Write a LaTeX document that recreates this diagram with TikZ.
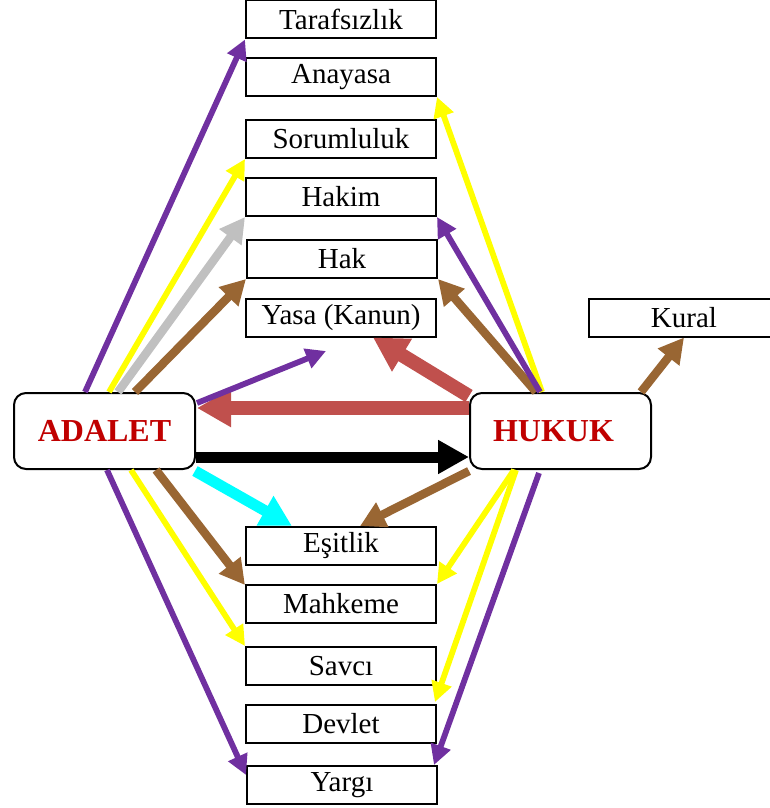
\documentclass[tikz,border=0pt]{standalone}
\usepackage{fontspec}
\setmainfont{Liberation Serif}
\usetikzlibrary{arrows.meta,calc}
\definecolor{cpurple}{HTML}{7030A0}
\definecolor{cyellow}{HTML}{FFFF00}
\definecolor{cgray}{HTML}{C0C0C0}
\definecolor{cbrown}{HTML}{996633}
\definecolor{cred}{HTML}{C0504D}
\definecolor{ccyan}{HTML}{00FFFF}
\definecolor{darkred}{HTML}{C00000}
\tikzset{
  box/.style={draw, line width=2pt, minimum width=190pt, minimum height=38pt, inner sep=0pt, fill=white, font=\fontsize{29}{31}\selectfont},
  mainbox/.style={draw, line width=2pt, rounded corners=12pt, minimum width=181pt, minimum height=76pt, inner sep=0pt, fill=white, text=darkred, font=\fontsize{32}{34}\selectfont\bfseries},
  thinarr/.style={line width=5.8pt, -{Triangle[length=20pt,width=20pt]}},
  midarr/.style={line width=8.5pt, -{Triangle[length=25pt,width=26pt]}},
  fatarr/.style={line width=11pt, -{Triangle[length=31pt,width=32pt]}},
  hugearr/.style={line width=14pt, -{Triangle[length=34pt,width=36pt]}}
}
\begin{document}
\begin{tikzpicture}[x=1pt,y=-1pt]
\useasboundingbox (0,0) rectangle (769,808);
% boxes
\node[box] (taraf) at (341,19.5) {Tarafsızlık};
\node[box] (anayasa) at (341,77) {Anayasa};
\node[box] (sorum) at (341,139) {Sorumluluk};
\node[box] (hakim) at (341,197) {Hakim};
\node[box] (hak) at (342,259) {Hak};
\node[box] (yasa) at (341,317.5) {Yasa (Kanun)};
\node[box] (kural) at (684,317.5) {Kural};
\node[box] (esit) at (341,546) {Eşitlik};
\node[box] (mahk) at (341,604) {Mahkeme};
\node[box] (savci) at (341,666) {Savcı};
\node[box] (devlet) at (341,724) {Devlet};
\node[box] (yargi) at (342,785) {Yargı};
\node[mainbox] (adalet) at (104.5,431) {ADALET};
\node[mainbox] (hukuk) at (560.5,431) {\hspace{-14pt}HUKUK};
\coordinate (free) at (326,351);
% ADALET upward
\draw[thinarr, cpurple] ($(adalet.north west)+(72,0)$) -- (taraf.south west);
\draw[thinarr, cyellow] ($(adalet.north west)+(96,0)$) -- (sorum.south west);
\draw[midarr, cgray] ($(adalet.north west)+(105,0)$) -- (hakim.south west);
\draw[midarr, cbrown] ($(adalet.north west)+(122,0)$) -- (hak.south west);
% red arrows from HUKUK
\draw[hugearr, cred] ($(hukuk.west)+(0,-23)$) -- ($(adalet.east)+(1,-23)$);
\draw[hugearr, cred] ($(hukuk.north west)+(0,4)$) -- ($(yasa.south)+(32,0)$);
\draw[thinarr, cpurple] ($(adalet.east)+(1,-28)$) -- (free);
% black
\draw[fatarr, black] ($(adalet.east)+(0,26)$) -- ($(hukuk.west)+(0,26)$);
% cyan and brown to Esitlik
\draw[fatarr, ccyan] ($(adalet.south east)+(-1,1)$) -- ($(esit.north)+(-49,0)$);
\draw[midarr, cbrown] ($(hukuk.south west)+(0,1)$) -- ($(esit.north)+(19,0)$);
% ADALET downward
\draw[thinarr, cpurple] ($(adalet.south west)+(94,0)$) -- ($(yargi.north west)+(0,10)$);
\draw[thinarr, cyellow] ($(adalet.south west)+(118,0)$) -- (savci.north west);
\draw[midarr, cbrown] ($(adalet.south west)+(143,0)$) -- ($(mahk.north west)+(0,1)$);
% HUKUK upward
\draw[thinarr, cyellow] ($(hukuk.north west)+(73,0)$) -- (anayasa.south east);
\draw[midarr, cbrown] ($(hukuk.north west)+(67,0)$) -- (hak.south east);
\draw[thinarr, cpurple] ($(hukuk.north west)+(71,0)$) -- (hakim.south east);
\draw[midarr, cbrown] ($(hukuk.north east)+(-11,0)$) -- (kural.south);
% HUKUK downward
\draw[thinarr, cyellow] ($(hukuk.south west)+(45,0)$) -- (mahk.north east);
\draw[thinarr, cyellow] ($(hukuk.south west)+(47,0)$) -- ($(devlet.north east)+(-2,-2)$);
\draw[thinarr, cpurple] ($(hukuk.south west)+(70,3)$) -- ($(yargi.north east)+(-4,0)$);
\end{tikzpicture}
\end{document}
